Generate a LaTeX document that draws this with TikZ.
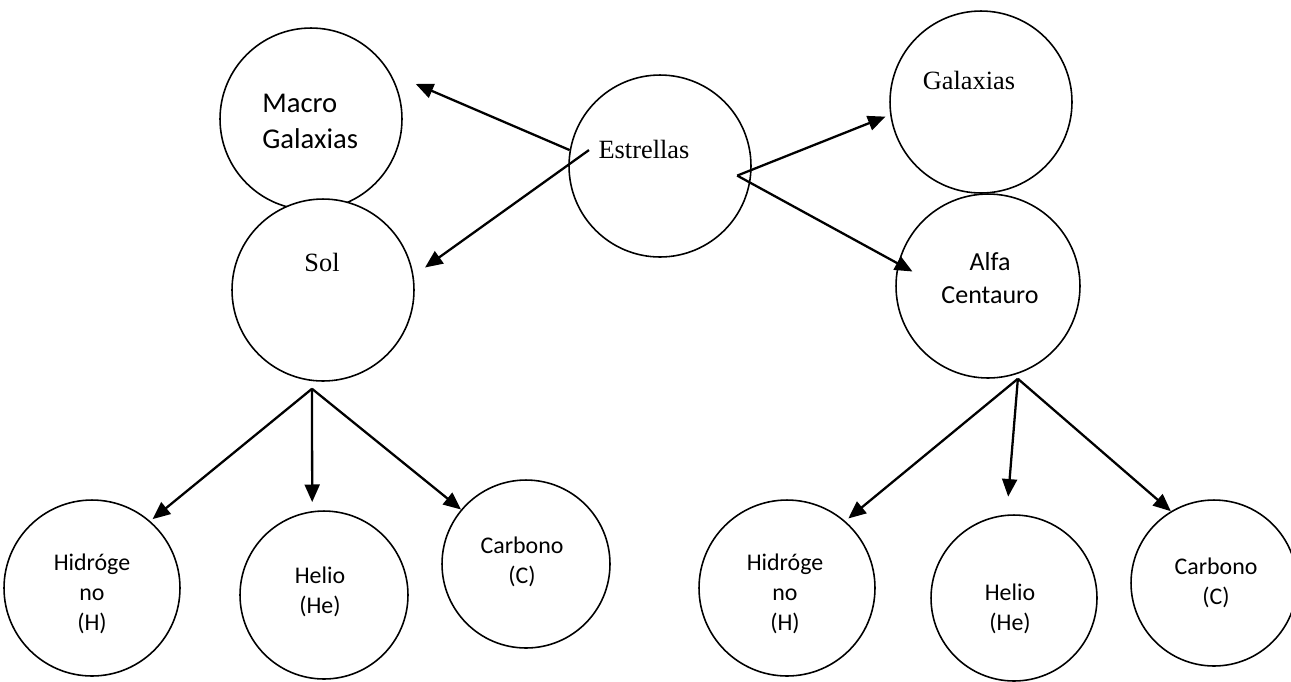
\documentclass[tikz,border=0pt]{standalone}
\usepackage{fontspec}
\setmainfont{Liberation Serif}
\newfontfamily\carlito{Carlito}
\usetikzlibrary{arrows.meta}

\tikzset{
  bola/.style={draw,circle,fill=white,inner sep=0pt,line width=0.9pt},
  flecha/.style={-{Triangle[length=10pt,width=8.5pt]},line width=1.3pt},
  txt/.style={inner sep=0pt,anchor=base,align=center},
  rom/.style={txt,font=\fontsize{15}{18}\selectfont},
  grande/.style={txt,font=\carlito\fontsize{16.3}{20.4}\selectfont},
  media/.style={txt,font=\carlito\fontsize{14.8}{18.7}\selectfont},
  chica/.style={txt,font=\carlito\fontsize{13.6}{17}\selectfont}
}

\begin{document}
\begin{tikzpicture}[x=0.02cm,y=-0.02cm]
\useasboundingbox (0,0) rectangle (1291,681);

\node[bola,minimum size=3.64cm](macro) at (311,119){};
\node[bola,minimum size=3.64cm](estr) at (660,166){};
\node[bola,minimum size=3.64cm](gal) at (981,102){};
\node[bola,minimum size=3.64cm](sol) at (323,290){};
\node[bola,minimum size=3.68cm](alfa) at (988,286){};

\node[bola,minimum size=3.52cm](h1) at (92,588){};
\node[bola,minimum size=3.36cm](he1) at (324,595){};
\node[bola,minimum size=3.36cm](c1) at (526,564){};
\node[bola,minimum size=3.52cm](h2) at (787,588){};
\node[bola,minimum size=3.32cm](he2) at (1014,598){};
\node[bola,minimum size=3.32cm](c2) at (1214,583){};

% multi-line texts sit on the baseline of their last line
\node[grande,anchor=base west,align=left](tmacro) at ([shift={(-49,29)}]macro){Macro\\Galaxias};
\node[rom](testr) at ([shift={(-16,-8)}]estr){Estrellas};
\node[rom](tgal) at ([shift={(-12,-13)}]gal){Galaxias};
\node[rom](tsol) at ([shift={(-1,-19)}]sol){Sol};
\node[media](talfa) at ([shift={(2,17)}]alfa){Alfa\\Centauro};

\node[chica](th1) at ([shift={(0,42)}]h1){Hidróge\\no\\(H)};
\node[chica](the1) at ([shift={(-4,18)}]he1){Helio\\(He)};
\node[chica](tc1) at ([shift={(-4,19)}]c1){Carbono\\(C)};
\node[chica](th2) at ([shift={(-2,42)}]h2){Hidróge\\no\\(H)};
\node[chica](the2) at ([shift={(-4,32)}]he2){Helio\\(He)};
\node[chica](tc2) at ([shift={(2,21)}]c2){Carbono\\(C)};

\coordinate (estrizq) at ([xshift=11]estr.170);
\coordinate (estrder) at ([xshift=-8]estr.-6);
\coordinate (solpie) at ([shift={(-11,7)}]sol.south);
\coordinate (alfapie) at ([xshift=17]alfa.south);

\draw[flecha,shorten >=0.55cm] (estr.170) -- (macro.30);
\draw[flecha,shorten >=0.28cm] (estrizq) -- (sol.9);
\draw[flecha,shorten >=0.1cm] (estrder) -- (gal.188);
\draw[flecha,shorten >=-0.33cm] (estrder) -- (alfa.166);

\draw[flecha,shorten >=0.06cm] (solpie) -- (h1.49);
\draw[flecha,shorten >=0.18cm] (solpie) -- (he1.98);
\draw[flecha] (solpie) -- (c1.140);

\draw[flecha,shorten >=0.08cm] (alfapie) -- (h2.49);
\draw[flecha,shorten >=0.36cm] (alfapie) -- (he2.95);
\draw[flecha] (alfapie) -- (c2.121);

\end{tikzpicture}
\end{document}
